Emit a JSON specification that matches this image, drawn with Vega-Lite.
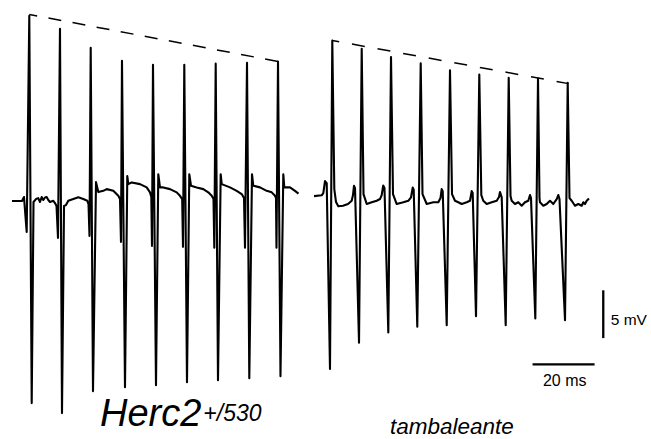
{
  "$schema": "https://vega.github.io/schema/vega-lite/v6.json",
  "width": 651,
  "height": 439,
  "autosize": {"type": "fit", "contains": "padding"},
  "padding": 0,
  "background": "white",
  "config": {"view": {"stroke": null}, "text": {"font": "Liberation Sans", "color": "black"}},
  "datasets": {
    "herc2": [
      {"t":3.87,"v":-0.21},{"t":7.10,"v":-0.21},{"t":7.74,"v":0.21},{"t":8.61,"v":-3.44},{"t":9.45,"v":19.17},{"t":10.23,"v":-21.35},{"t":10.81,"v":-0.31},{"t":11.61,"v":0},{"t":12.35,"v":0.10},{"t":12.90,"v":-0.31},{"t":13.45,"v":0.21},{"t":13.97,"v":-0.10},{"t":14.52,"v":0.16},{"t":15.06,"v":0.21},{"t":15.58,"v":-0.10},{"t":16.13,"v":-0.31},{"t":17.19,"v":-0.18},{"t":17.74,"v":-0.42},{"t":18.23,"v":-0.73},
      {"t":18.71,"v":-4.06},{"t":19.35,"v":17.81},{"t":20.00,"v":-22.40},{"t":20.65,"v":-0.73},{"t":21.29,"v":-0.63},{"t":22.03,"v":-0.18},{"t":23.65,"v":0},{"t":25.26,"v":0.18},{"t":26.87,"v":0},{"t":28.16,"v":-0.18},{"t":28.55,"v":-0.52},
      {"t":28.87,"v":-3.85},{"t":29.26,"v":15.83},{"t":30.00,"v":-20.10},{"t":30.97,"v":1.77},{"t":31.71,"v":0.73},{"t":33.32,"v":0.86},{"t":34.42,"v":1.04},{"t":36.55,"v":0.86},{"t":38.16,"v":0.34},{"t":38.71,"v":0},
      {"t":39.03,"v":-4.48},{"t":39.35,"v":14.48},{"t":40.32,"v":-19.69},{"t":41.06,"v":2.40},{"t":41.39,"v":1.56},{"t":42.48,"v":1.74},{"t":45.16,"v":1.56},{"t":47.32,"v":1.22},{"t":48.39,"v":0.70},{"t":48.81,"v":0.21},
      {"t":49.03,"v":-4.90},{"t":49.35,"v":14.06},{"t":50.32,"v":-19.48},{"t":51.06,"v":2.60},{"t":51.61,"v":1.22},{"t":52.68,"v":1.22},{"t":54.84,"v":1.04},{"t":57.00,"v":0.70},{"t":58.06,"v":0.34},{"t":58.77,"v":0},
      {"t":59.03,"v":-5.00},{"t":59.45,"v":14.06},{"t":60.32,"v":-19.17},{"t":61.06,"v":2.60},{"t":61.61,"v":1.39},{"t":63.45,"v":1.22},{"t":65.58,"v":1.04},{"t":67.19,"v":0.70},{"t":68.29,"v":0.34},{"t":68.87,"v":0},
      {"t":69.13,"v":-5.10},{"t":69.58,"v":14.17},{"t":70.32,"v":-18.96},{"t":71.19,"v":2.60},{"t":71.52,"v":1.56},{"t":74.19,"v":1.22},{"t":76.35,"v":0.86},{"t":77.97,"v":0.52},{"t":78.71,"v":0.10},
      {"t":79.03,"v":-5.10},{"t":79.68,"v":14.27},{"t":80.42,"v":-18.75},{"t":81.29,"v":2.60},{"t":81.71,"v":1.39},{"t":83.87,"v":1.22},{"t":86.03,"v":0.86},{"t":87.65,"v":0.70},{"t":88.71,"v":0.34},{"t":89.03,"v":0.10},
      {"t":89.19,"v":-5.10},{"t":89.68,"v":14.38},{"t":90.48,"v":-18.54},{"t":91.39,"v":2.60},{"t":91.71,"v":1.22},{"t":93.55,"v":1.22},{"t":95.16,"v":0.86},{"t":96.29,"v":0.57}
    ],
    "tamb": [
      {"t":101.29,"v":0.31},{"t":103.77,"v":0.39},{"t":104.29,"v":0.63},{"t":104.84,"v":1.88},{"t":105.39,"v":1.67},
      {"t":106.45,"v":-17.78},{"t":107.19,"v":16.59},{"t":107.84,"v":1.04},{"t":108.39,"v":-0.31},{"t":109.13,"v":-0.76},{"t":110.65,"v":-0.70},{"t":112.26,"v":-0.52},{"t":113.45,"v":-0.18},{"t":113.87,"v":0.42},{"t":114.19,"v":1.39},{"t":114.52,"v":1.15},
      {"t":115.81,"v":-15.03},{"t":116.68,"v":15.73},{"t":117.26,"v":0.52},{"t":118.29,"v":-0.52},{"t":119.90,"v":-0.34},{"t":121.52,"v":-0.18},{"t":122.58,"v":0},{"t":123.13,"v":0.42},{"t":123.61,"v":1.41},{"t":124.03,"v":1.15},
      {"t":125.26,"v":-13.96},{"t":126.13,"v":14.86},{"t":126.77,"v":0.52},{"t":127.97,"v":-0.52},{"t":130.10,"v":-0.34},{"t":131.71,"v":-0.18},{"t":132.58,"v":0.18},{"t":133.13,"v":1.20},{"t":133.45,"v":0.99},
      {"t":134.61,"v":-13.36},{"t":135.71,"v":14.20},{"t":136.29,"v":0.52},{"t":137.65,"v":-0.52},{"t":139.77,"v":-0.34},{"t":141.39,"v":-0.34},{"t":142.10,"v":0.10},{"t":142.48,"v":1.04},{"t":142.81,"v":0.83},
      {"t":144.10,"v":-13.20},{"t":145.16,"v":13.47},{"t":145.81,"v":0.52},{"t":146.77,"v":-0.18},{"t":147.84,"v":-0.34},{"t":148.94,"v":-0.52},{"t":150.55,"v":-0.34},{"t":151.61,"v":-0.18},{"t":152.16,"v":0.83},{"t":152.48,"v":0.63},
      {"t":153.55,"v":-12.26},{"t":154.61,"v":13.02},{"t":155.26,"v":0.42},{"t":155.90,"v":-0.18},{"t":157.00,"v":-0.52},{"t":158.61,"v":-0.34},{"t":160.23,"v":-0.18},{"t":160.97,"v":0.21},{"t":161.29,"v":0.73},{"t":161.84,"v":0.18},
      {"t":163.13,"v":-13.20},{"t":164.10,"v":12.68},{"t":164.68,"v":0.31},{"t":165.06,"v":-0.18},{"t":166.13,"v":-0.52},{"t":167.19,"v":-0.34},{"t":168.29,"v":-0.70},{"t":169.35,"v":-0.34},{"t":170.42,"v":-0.18},{"t":170.97,"v":0.42},{"t":171.29,"v":0.10},
      {"t":172.68,"v":-12.50},{"t":173.55,"v":12.60},{"t":174.03,"v":0.10},{"t":174.19,"v":-0.34},{"t":175.26,"v":-0.70},{"t":176.35,"v":-0.52},{"t":177.42,"v":-0.18},{"t":178.48,"v":-0.52},{"t":179.58,"v":0},{"t":180.10,"v":0.42},{"t":180.48,"v":0},
      {"t":182.26,"v":-12.68},{"t":183.13,"v":12.16},{"t":183.71,"v":0.10},{"t":184.42,"v":-0.18},{"t":185.48,"v":-0.70},{"t":186.55,"v":-0.52},{"t":187.65,"v":-0.70},{"t":188.16,"v":-0.34},{"t":188.71,"v":-0.52},{"t":189.26,"v":-0.18},{"t":190.00,"v":0.05}
    ],
    "dash": [
      {"trace":"Herc2","t":9.45,"v":19.32},{"trace":"Herc2","t":90.0,"v":14.38},
      {"trace":"tambaleante","t":107.19,"v":16.59},{"trace":"tambaleante","t":183.39,"v":12.08}
    ],
    "bars": [
      {"bar":"5 mV","t":194.6,"t2":194.6,"v":-9.55,"v2":-14.55},
      {"bar":"20 ms","t":171.8,"t2":191.8,"v":-17.29,"v2":-17.29}
    ],
    "labels": [
      {"label":"Herc2","t":32.26,"v":-23.78},
      {"label":"+/530","t":65.6,"v":-23.26},
      {"label":"tambaleante","t":125.81,"v":-24.55},
      {"label":"5 mV","t":197.0,"v":-13.20},
      {"label":"20 ms","t":182.16,"v":-19.61}
    ]
  },
  "layer": [
    {
      "data": {"name": "herc2"},
      "mark": {"type": "line", "color": "black", "strokeWidth": 2.1, "strokeJoin": "round"},
      "encoding": {
        "x": {"field": "t", "type": "quantitative", "scale": {"domain": [0, 210], "nice": false, "zero": false}, "axis": null},
        "y": {"field": "v", "type": "quantitative", "scale": {"domain": [-24.9, 20.83], "nice": false, "zero": false}, "axis": null},
        "order": {"value": null}
      }
    },
    {
      "data": {"name": "tamb"},
      "mark": {"type": "line", "color": "black", "strokeWidth": 2.1, "strokeJoin": "round"},
      "encoding": {
        "x": {"field": "t", "type": "quantitative"},
        "y": {"field": "v", "type": "quantitative"},
        "order": {"value": null}
      }
    },
    {
      "data": {"name": "dash"},
      "transform": [{"filter": "datum.trace === 'Herc2'"}],
      "mark": {"type": "line", "color": "black", "strokeWidth": 1.5, "strokeDash": [13, 11.5], "strokeDashOffset": 5},
      "encoding": {
        "x": {"field": "t", "type": "quantitative"},
        "y": {"field": "v", "type": "quantitative"}
      }
    },
    {
      "data": {"name": "dash"},
      "transform": [{"filter": "datum.trace === 'tambaleante'"}],
      "mark": {"type": "line", "color": "black", "strokeWidth": 1.5, "strokeDash": [13, 13], "strokeDashOffset": 6},
      "encoding": {
        "x": {"field": "t", "type": "quantitative"},
        "y": {"field": "v", "type": "quantitative"}
      }
    },
    {
      "data": {"name": "bars"},
      "mark": {"type": "rule", "color": "black", "strokeWidth": 2.3},
      "encoding": {
        "x": {"field": "t", "type": "quantitative"},
        "x2": {"field": "t2"},
        "y": {"field": "v", "type": "quantitative"},
        "y2": {"field": "v2"}
      }
    },
    {
      "data": {"name": "labels"},
      "transform": [{"filter": "datum.label === 'Herc2'"}],
      "mark": {"type": "text", "fontSize": 38, "fontStyle": "italic", "align": "left", "baseline": "alphabetic"},
      "encoding": {
        "x": {"field": "t", "type": "quantitative"},
        "y": {"field": "v", "type": "quantitative"},
        "text": {"field": "label"}
      }
    },
    {
      "data": {"name": "labels"},
      "transform": [{"filter": "datum.label === '+/530'"}],
      "mark": {"type": "text", "fontSize": 23, "fontStyle": "italic", "align": "left", "baseline": "alphabetic"},
      "encoding": {
        "x": {"field": "t", "type": "quantitative"},
        "y": {"field": "v", "type": "quantitative"},
        "text": {"field": "label"}
      }
    },
    {
      "data": {"name": "labels"},
      "transform": [{"filter": "datum.label === 'tambaleante'"}],
      "mark": {"type": "text", "fontSize": 22.5, "fontStyle": "italic", "align": "left", "baseline": "alphabetic"},
      "encoding": {
        "x": {"field": "t", "type": "quantitative"},
        "y": {"field": "v", "type": "quantitative"},
        "text": {"field": "label"}
      }
    },
    {
      "data": {"name": "labels"},
      "transform": [{"filter": "datum.label === '5 mV'"}],
      "mark": {"type": "text", "fontSize": 15.5, "align": "left", "baseline": "alphabetic"},
      "encoding": {
        "x": {"field": "t", "type": "quantitative"},
        "y": {"field": "v", "type": "quantitative"},
        "text": {"field": "label"}
      }
    },
    {
      "data": {"name": "labels"},
      "transform": [{"filter": "datum.label === '20 ms'"}],
      "mark": {"type": "text", "fontSize": 16, "align": "center", "baseline": "alphabetic"},
      "encoding": {
        "x": {"field": "t", "type": "quantitative"},
        "y": {"field": "v", "type": "quantitative"},
        "text": {"field": "label"}
      }
    }
  ]
}
